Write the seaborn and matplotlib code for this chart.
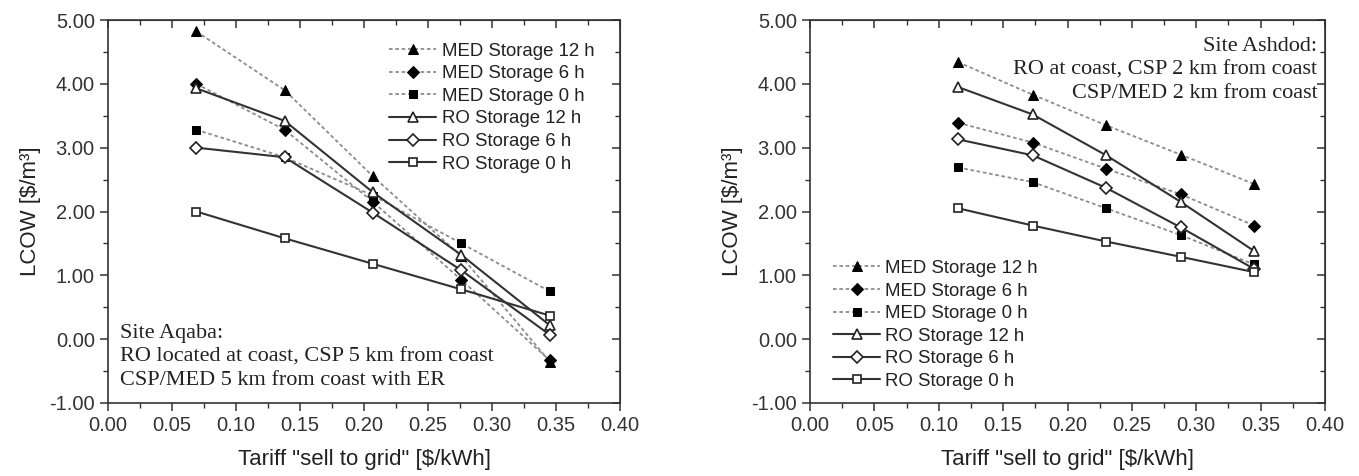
import numpy as np
import pandas as pd
import matplotlib
matplotlib.use("Agg")
import matplotlib.pyplot as plt
from matplotlib.ticker import MultipleLocator, FormatStrFormatter
import seaborn as sns

# tariff values (x) for each site
x_aqaba = [0.069, 0.138, 0.207, 0.276, 0.345]
x_ashdod = [0.115, 0.173, 0.230, 0.288, 0.345]

series_names = ["MED Storage 12 h", "MED Storage 6 h", "MED Storage 0 h",
                "RO Storage 12 h", "RO Storage 6 h", "RO Storage 0 h"]

# LCOW values, site Aqaba
aqaba_med12 = [4.82, 3.90, 2.55, 1.30, -0.35]
aqaba_med6 = [4.00, 3.28, 2.15, 0.93, -0.33]
aqaba_med0 = [3.28, 2.85, 2.25, 1.50, 0.75]
aqaba_ro12 = [3.93, 3.42, 2.30, 1.32, 0.22]
aqaba_ro6 = [3.00, 2.85, 1.98, 1.08, 0.07]
aqaba_ro0 = [2.00, 1.58, 1.18, 0.78, 0.37]

# LCOW values, site Ashdod
ashdod_med12 = [4.34, 3.83, 3.35, 2.89, 2.43]
ashdod_med6 = [3.39, 3.08, 2.67, 2.27, 1.78]
ashdod_med0 = [2.69, 2.46, 2.05, 1.63, 1.17]
ashdod_ro12 = [3.95, 3.52, 2.88, 2.15, 1.38]
ashdod_ro6 = [3.13, 2.88, 2.37, 1.75, 1.10]
ashdod_ro0 = [2.05, 1.78, 1.53, 1.29, 1.05]

aqaba_text = "Site Aqaba:\nRO located at coast, CSP 5 km from coast\nCSP/MED 5 km from coast with ER"
ashdod_text = "Site Ashdod:\nRO at coast, CSP 2 km from coast\nCSP/MED 2 km from coast"


def make_df(x, values):
    rows = []
    for name, vals in zip(series_names, values):
        for xi, yi in zip(x, vals):
            rows.append({"series": name, "tariff": xi, "lcow": yi})
    return pd.DataFrame(rows)


df_aqaba = make_df(x_aqaba, [aqaba_med12, aqaba_med6, aqaba_med0,
                             aqaba_ro12, aqaba_ro6, aqaba_ro0])
df_ashdod = make_df(x_ashdod, [ashdod_med12, ashdod_med6, ashdod_med0,
                               ashdod_ro12, ashdod_ro6, ashdod_ro0])

markers = {"MED Storage 12 h": "^", "MED Storage 6 h": "D", "MED Storage 0 h": "s",
           "RO Storage 12 h": "^", "RO Storage 6 h": "D", "RO Storage 0 h": "s"}
msizes = {"^": 7.5, "D": 6.2, "s": 6.0}

sns.set_style("ticks")
plt.rcParams["font.family"] = ["Liberation Sans", "DejaVu Sans"]
plt.rcParams["axes.edgecolor"] = "#333333"
plt.rcParams["xtick.color"] = "#333333"
plt.rcParams["ytick.color"] = "#333333"
plt.rcParams["text.color"] = "#222222"
plt.rcParams["axes.labelcolor"] = "#222222"

fig = plt.figure(figsize=(13.59, 4.76), dpi=100)
ax1 = fig.add_axes([108 / 1359, 1 - 403 / 476, 512 / 1359, 383 / 476])
ax2 = fig.add_axes([810 / 1359, 1 - 403 / 476, 515 / 1359, 383 / 476])


def draw_panel(ax, df):
    for name in series_names:
        sub = df[df["series"] == name]
        m = markers[name]
        if name.startswith("MED"):
            sns.lineplot(data=sub, x="tariff", y="lcow", ax=ax, color="#8c8c8c",
                         linewidth=1.3, linestyle=(0, (2.0, 1.5)), marker=m,
                         markersize=msizes[m], markerfacecolor="black",
                         markeredgecolor="black", label=name, sort=False)
        else:
            sns.lineplot(data=sub, x="tariff", y="lcow", ax=ax, color="#333333",
                         linewidth=1.5, marker=m, markersize=msizes[m],
                         markerfacecolor="white", markeredgecolor="#222222",
                         markeredgewidth=1.2, label=name, sort=False)

    ax.set_xlim(0, 0.40)
    ax.set_ylim(-1.0, 5.0)
    ax.xaxis.set_major_locator(MultipleLocator(0.05))
    ax.xaxis.set_minor_locator(MultipleLocator(0.025))
    ax.yaxis.set_major_locator(MultipleLocator(1.0))
    ax.yaxis.set_minor_locator(MultipleLocator(0.5))
    ax.xaxis.set_major_formatter(FormatStrFormatter("%.2f"))
    ax.yaxis.set_major_formatter(FormatStrFormatter("%.2f"))
    ax.tick_params(which="major", direction="out", length=6, width=1.1, labelsize=14.5)
    ax.tick_params(which="minor", direction="out", length=3.5, width=1.0)
    for s in ax.spines.values():
        s.set_visible(True)
        s.set_linewidth(1.2)

    # inward ticks on top and right
    top = ax.secondary_xaxis("top")
    top.xaxis.set_major_locator(MultipleLocator(0.05))
    top.xaxis.set_minor_locator(MultipleLocator(0.025))
    top.tick_params(which="major", direction="in", length=6, width=1.1, labeltop=False)
    top.tick_params(which="minor", direction="in", length=3.5, width=1.0)
    right = ax.secondary_yaxis("right")
    right.yaxis.set_major_locator(MultipleLocator(1.0))
    right.yaxis.set_minor_locator(MultipleLocator(0.5))
    right.tick_params(which="major", direction="in", length=6, width=1.1, labelright=False)
    right.tick_params(which="minor", direction="in", length=3.5, width=1.0)

    ax.set_xlabel('Tariff "sell to grid" [$/kWh]', fontsize=16, labelpad=10)
    ax.set_ylabel("LCOW [$/m³]", fontsize=16, labelpad=6)


draw_panel(ax1, df_aqaba)
draw_panel(ax2, df_ashdod)

ax1.legend(loc="upper right", bbox_to_anchor=(0.975, 0.975), frameon=False, fontsize=13.4,
           handlelength=2.5, handletextpad=0.3, labelspacing=0.3, borderaxespad=0.3)
ax2.legend(loc="lower left", bbox_to_anchor=(0.02, 0.0), frameon=False, fontsize=13.4,
           handlelength=2.5, handletextpad=0.3, labelspacing=0.3, borderaxespad=0.3)

ax1.text(0.024, 0.205, aqaba_text, transform=ax1.transAxes, ha="left", va="top",
         fontsize=16, family=["Liberation Serif", "DejaVu Serif"], linespacing=1.3)
ax2.text(0.985, 0.955, ashdod_text, transform=ax2.transAxes, ha="right", va="top",
         fontsize=16, family=["Liberation Serif", "DejaVu Serif"], linespacing=1.3,
         multialignment="right")

fig.savefig("out.png", dpi=100)
